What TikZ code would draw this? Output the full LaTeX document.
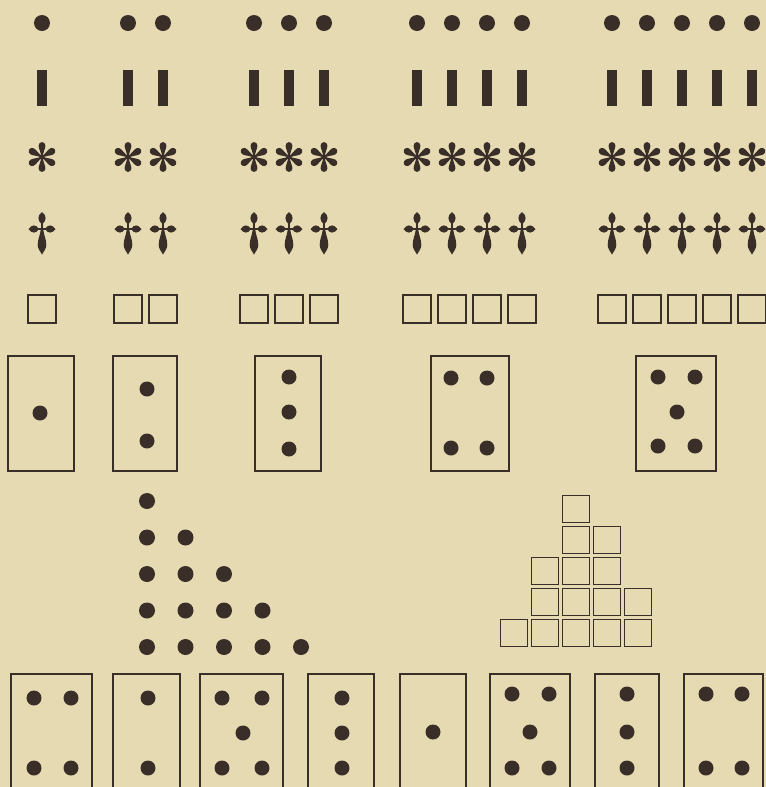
\documentclass[tikz,border=0pt]{standalone}
\usetikzlibrary{calc}
\definecolor{paper}{HTML}{E6DAB3}
\definecolor{ink}{HTML}{3A2E29}
\tikzset{
  boxline/.style   = {draw=ink, line width=0.3mm},
  almond/.style    = {fill=ink},
  dotmark/.pic     = {\fill[ink] (0,0) circle (8);},
  pipmark/.pic     = {\fill[ink] (0,0) circle (7.5);},
  barmark/.pic     = {\fill[ink] (-4.8,-18) rectangle (4.8,18);},
  cellmark/.pic    = {\draw[boxline] (-14,-14) rectangle (14,14);},
  smallcell/.pic   = {\draw[boxline] (-13.5,-13.5) rectangle (13.5,13.5);},
  starmark/.pic    = {\foreach \a in {30,90,...,330} {
                        \fill[ink, rotate=\a] (0,-0.7) .. controls (5,-1) and (8,-3.4) .. (11.5,-3.4)
                          arc[start angle=-90, end angle=90, radius=3.4]
                          .. controls (8,3.4) and (5,1) .. (0,0.7) -- cycle;}},
  crossmark/.pic   = {\fill[ink] (-1.3,-8) rectangle (1.3,4);
                      \fill[ink] (-6,-1.3) rectangle (6,1.3);
                      % top lobe
                      \fill[almond] (0,-17) .. controls (4.8,-13.5) and (4.8,-8.5) .. (0,-4.5)
                        .. controls (-4.8,-8.5) and (-4.8,-13.5) .. (0,-17) -- cycle;
                      % side lobes
                      \foreach \s in {-1,1}
                        \fill[almond] (\s*13.5,0) .. controls (\s*10,4.8) and (\s*6,4.8) .. (\s*3,0)
                          .. controls (\s*6,-4.8) and (\s*10,-4.8) .. (\s*13.5,0) -- cycle;
                      % long lower lobe
                      \fill[almond] (-1.3,1) .. controls (-1.8,6) and (-4.3,10) .. (-4.3,16)
                        .. controls (-4.3,19.5) and (-1.8,22.5) .. (0,25.5)
                        .. controls (1.8,22.5) and (4.3,19.5) .. (4.3,16)
                        .. controls (4.3,10) and (1.8,6) .. (1.3,1) -- cycle;},
}
\begin{document}
\begin{tikzpicture}[x=0.2mm, y=-0.2mm]
\useasboundingbox (0,0) rectangle (766,787);
\fill[paper] (0,0) rectangle (766,787);
\clip (0,0) rectangle (766,787);

% ---- five rows of marks, one to five in each group ----------------------
\foreach \n/\xs in {1/42, 2/128, 3/254, 4/417, 5/612} {
  \foreach \k in {1,...,\n} {
    \pgfmathsetmacro\xx{\xs+35*(\k-1)}
    \pic at (\xx,23)  {dotmark};
    \pic at (\xx,88)  {barmark};
    \pic at (\xx,157) {starmark};
    \pic at (\xx,229) {crossmark};
    \pic at (\xx,309) {cellmark};
  }
}

% ---- dominoes, upper row --------------------------------------------------
\foreach \xa/\xb in {8/74, 113/177, 255/321, 431/509, 636/716}
  \draw[boxline] (\xa,356) rectangle (\xb,471);
\foreach \px/\py in {40/413, 147/389, 147/441, 289/377, 289/412, 289/449,
                     451/378, 487/378, 451/448, 487/448,
                     658/377, 695/377, 677/412, 658/446, 695/446}
  \pic at (\px,\py) {pipmark};

% ---- triangle of dots -----------------------------------------------------
\foreach \r in {1,...,5}
  \foreach \k in {1,...,\r}
    \pic at ({147+38.5*(\k-1)},{501+36.5*(\r-1)}) {dotmark};

% ---- staircase of cells ---------------------------------------------------
\foreach \r/\ca/\cb in {0/2/2, 1/2/3, 2/1/3, 3/1/4, 4/0/4}
  \foreach \c in {\ca,...,\cb}
    \pic at ({514+31*\c},{509+31*\r}) {smallcell};

% ---- dominoes, lower row (cut off at the bottom) ------------------------
\foreach \xa/\xb in {11/92, 113/180, 200/283, 308/374, 400/466, 490/570, 595/659, 684/763}
  \draw[boxline] (\xa,800) -- (\xa,674) -- (\xb,674) -- (\xb,800);
\foreach \px/\py in {34/698, 71/698, 34/768, 71/768,
                     148/698, 148/768,
                     222/698, 262/698, 243/733, 222/768, 262/768,
                     342/698, 342/733, 342/768,
                     433/732,
                     512/694, 549/694, 530/732, 512/768, 549/768,
                     627/694, 627/732, 627/768,
                     706/694, 742/694, 706/768, 742/768}
  \pic at (\px,\py) {pipmark};

\end{tikzpicture}
\end{document}
